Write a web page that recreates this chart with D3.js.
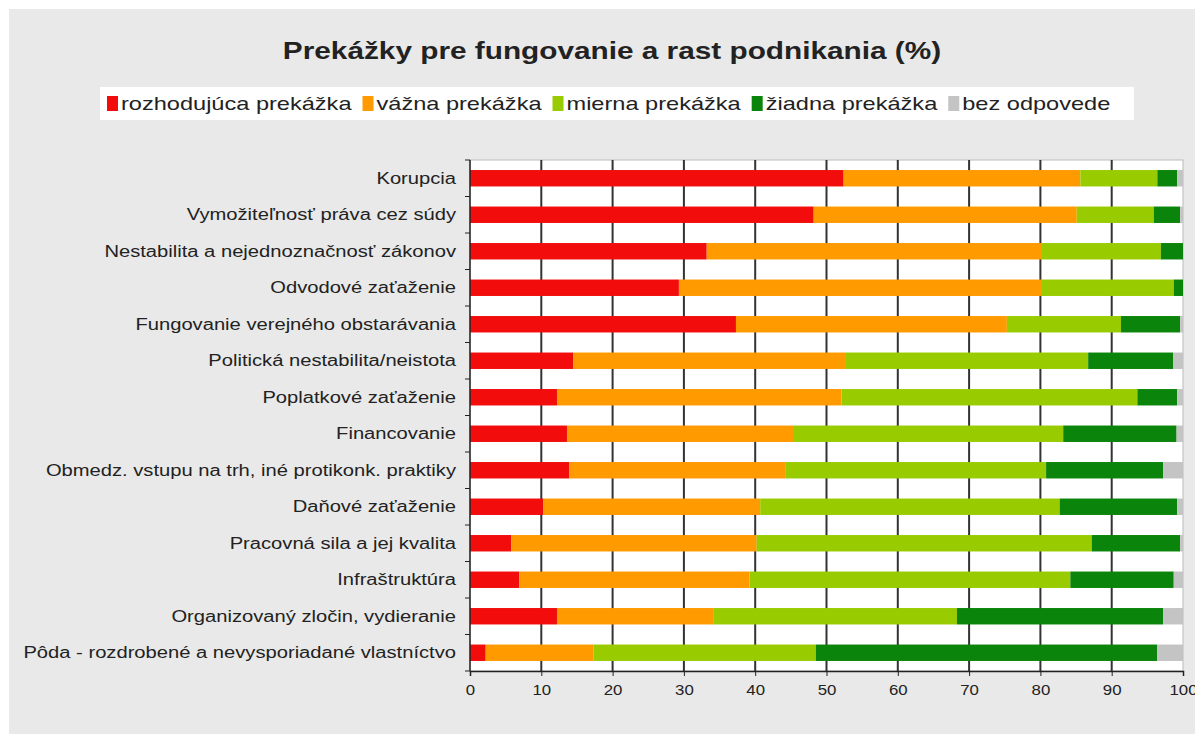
<!DOCTYPE html>
<html>
<head>
<meta charset="utf-8">
<script src="https://cdn.jsdelivr.net/npm/d3@7"></script>
<style>
  body { margin: 0; background: #fff; }
  text { font-family: "Liberation Sans", Arial, sans-serif; fill: #222; }
</style>
</head>
<body>
<script>
// categories (top to bottom)
const categories = [
  "Korupcia",
  "Vymožiteľnosť práva cez súdy",
  "Nestabilita a nejednoznačnosť zákonov",
  "Odvodové zaťaženie",
  "Fungovanie verejného obstarávania",
  "Politická nestabilita/neistota",
  "Poplatkové zaťaženie",
  "Financovanie",
  "Obmedz. vstupu na trh, iné protikonk. praktiky",
  "Daňové zaťaženie",
  "Pracovná sila a jej kvalita",
  "Infraštruktúra ",
  "Organizovaný zločin, vydieranie",
  "Pôda - rozdrobené a nevysporiadané vlastníctvo"
];
const seriesNames = ["rozhodujúca prekážka", "vážna prekážka", "mierna prekážka", "žiadna prekážka", "bez odpovede"];
const seriesColors = ["#f20c0c", "#ff9a00", "#99cc00", "#0a840a", "#c4c4c4"];

const rozhodujuca = [52.4, 48.2, 33.2, 29.3, 37.3, 14.5, 12.2, 13.6, 13.9, 10.3, 5.8, 6.9, 12.2, 2.2];
const vazna       = [33.2, 36.9, 47.0, 50.9, 38.0, 38.1, 39.9, 31.7, 30.3, 30.4, 34.4, 32.3, 21.9, 15.1];
const mierna      = [10.8, 10.8, 16.7, 18.5, 16.0, 34.1, 41.5, 37.9, 36.6, 42.0, 47.0, 45.0, 34.2, 31.2];
const ziadna      = [2.8, 3.7, 3.1, 1.3, 8.3, 11.9, 5.6, 15.9, 16.4, 16.5, 12.4, 14.5, 28.9, 47.9];
const bezOdpovede = [0.8, 0.4, 0.0, 0.0, 0.4, 1.4, 0.8, 0.9, 2.8, 0.8, 0.4, 1.3, 2.8, 3.6];
const xTicks = [0, 10, 20, 30, 40, 50, 60, 70, 80, 90, 100];

const width = 1195, height = 742;
const margin = {top: 160, left: 470, right: 12, bottom: 71};
const innerWidth = width - margin.left - margin.right;
const innerHeight = height - margin.top - margin.bottom;

// the original picture is wide-set, so texts are stretched sideways
function stretch(sel, k) {
  sel.each(function() {
    const len = this.getComputedTextLength();
    d3.select(this).attr('textLength', len * k).attr('lengthAdjust', 'spacingAndGlyphs');
  });
}

const svg = d3.select('body').append('svg').attr('width', width).attr('height', height);

// grey panel
svg.append('rect').attr('x', 9).attr('y', 9).attr('width', width - 9).attr('height', 725).attr('fill', '#e9e9e9');

// title
svg.append('text').attr('x', 612).attr('y', 59).attr('text-anchor', 'middle')
   .attr('font-size', 24).attr('font-weight', 'bold').text('Prekážky pre fungovanie a rast podnikania (%)')
   .call(stretch, 1.24);

// legend
const legend = svg.append('g');
legend.append('rect').attr('x', 100).attr('y', 87).attr('width', 1034).attr('height', 33).attr('fill', '#fff');
let lx = 107;
seriesNames.forEach((name, i) => {
  legend.append('rect').attr('x', lx).attr('y', 96).attr('width', 11).attr('height', 15).attr('fill', seriesColors[i]);
  const t = legend.append('text').attr('x', lx + 14).attr('y', 110).attr('font-size', 19).text(name).call(stretch, 1.24);
  lx += 14 + +t.attr('textLength') + 11;
});

const grp = svg.append('g').attr('transform', `translate(${margin.left},${margin.top})`);

const xScale = d3.scaleLinear().domain([0, 100]).range([0, innerWidth]);
const yScale = d3.scaleBand().domain(categories).range([0, innerHeight]).paddingInner(0.55).paddingOuter(0.275);

// plot background
grp.append('rect').attr('width', innerWidth).attr('height', innerHeight).attr('fill', '#fff')
   .attr('stroke', '#bbb').attr('stroke-width', 1);

// vertical grid lines
grp.append('g').selectAll('line').data(xTicks.slice(1, -1)).join('line')
   .attr('x1', d => xScale(d)).attr('x2', d => xScale(d))
   .attr('y1', 0).attr('y2', innerHeight)
   .attr('stroke', '#333').attr('stroke-width', 2);

// stacked bars
const table = categories.map((c, i) => ({
  cat: c, s0: rozhodujuca[i], s1: vazna[i], s2: mierna[i], s3: ziadna[i], s4: bezOdpovede[i]
}));
const stack = d3.stack().keys(['s0', 's1', 's2', 's3', 's4'])(table);
grp.append('g').selectAll('g').data(stack).join('g')
   .attr('fill', (d, i) => seriesColors[i])
   .selectAll('rect').data(d => d).join('rect')
   .attr('x', d => xScale(d[0]))
   .attr('y', d => yScale(d.data.cat))
   .attr('width', d => xScale(d[1]) - xScale(d[0]))
   .attr('height', yScale.bandwidth());

// bottom axis
const xAxis = grp.append('g').attr('transform', `translate(0,${innerHeight})`)
   .call(d3.axisBottom(xScale).tickValues(xTicks).tickSize(5).tickPadding(9));
xAxis.select('.domain').attr('stroke', '#222').attr('stroke-width', 1.5);
xAxis.selectAll('.tick line').attr('stroke', '#222');
xAxis.selectAll('.tick text').attr('font-size', 14).attr('fill', '#333')
   .attr('font-family', '"Liberation Sans", Arial, sans-serif')
   .call(stretch, 1.2);

// left axis: line, ticks at category boundaries, labels
const yAxis = grp.append('g');
yAxis.append('line').attr('x1', 0).attr('x2', 0).attr('y1', 0).attr('y2', innerHeight)
   .attr('stroke', '#222').attr('stroke-width', 1.5);
const step = yScale.step();
yAxis.selectAll('line.tk').data(d3.range(categories.length + 1)).join('line').attr('class', 'tk')
   .attr('x1', -5).attr('x2', 0)
   .attr('y1', i => i * step).attr('y2', i => i * step)
   .attr('stroke', '#222');
yAxis.selectAll('text').data(categories).join('text')
   .attr('x', -14).attr('y', d => yScale(d) + yScale.bandwidth() / 2)
   .attr('dy', '0.35em').attr('text-anchor', 'end').attr('font-size', 16)
   .text(d => d)
   .call(stretch, 1.26);
</script>
</body>
</html>
